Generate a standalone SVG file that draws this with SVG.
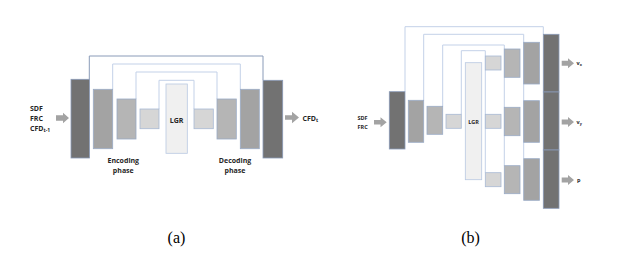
<svg xmlns="http://www.w3.org/2000/svg" width="622" height="257" viewBox="0 0 622 257">
<defs>
<style>
.bg{fill:#ffffff}
.d{fill:#727272;stroke:#8a9bb8;stroke-width:0.8}
.m{fill:#a3a3a3;stroke:#9aabc6;stroke-width:0.8}
.m2{fill:#b5b5b5;stroke:#9aabc6;stroke-width:0.8}
.l{fill:#d6d6d6;stroke:#a8b9d4;stroke-width:0.8}
.lgr{fill:#f0f0f0;stroke:#b8c8e2;stroke-width:0.8}
.sk{fill:none;stroke:#c3d1e8;stroke-width:1}
.sko{fill:none;stroke:#8a9bb8;stroke-width:1}
.ar{fill:#a3a3a3}
.t{font-family:"Open Sans","Liberation Sans",sans-serif;font-weight:bold;fill:#262626}
.ta{font-size:7px}
.tb{font-size:5.5px}
.cap{font-family:"Liberation Serif",serif;font-size:16px;fill:#000}
</style>
</defs>
<rect class="bg" x="0" y="0" width="622" height="257"/>

<!-- (a) connectors -->
<g id="connectors-a">
<polyline class="sko" points="89.3,79 89.3,56 263,56 263,80"/>
<polyline class="sk" points="112.7,89 112.7,64 240.3,64 240.3,89"/>
<polyline class="sk" points="136,99 136,72 217,72 217,99"/>
<polyline class="sk" points="159,109 159,80.3 194,80.3 194,109"/>
<path class="ar" d="M56,115.3 H63 V112.7 L69,118 L63,123.3 V120.7 H56 Z"/>
<path class="ar" d="M285,115.3 H292 V111.7 L299,117.5 L292,123.3 V119.7 H285 Z"/>
</g>

<!-- (a) nodes -->
<g id="a-enc1"><rect class="d" x="71" y="79.3" width="18.5" height="78.7"/></g>
<g id="a-enc2"><rect class="m" x="93.3" y="89.3" width="19.4" height="59.4"/></g>
<g id="a-enc3"><rect class="m2" x="117" y="99" width="19" height="40"/></g>
<g id="a-enc4"><rect class="l" x="140" y="109" width="19" height="19.7"/></g>
<g id="a-lgr"><rect class="lgr" x="166" y="84" width="21.3" height="69.3"/><text class="t ta" x="176.6" y="122.5" text-anchor="middle">LGR</text></g>
<g id="a-dec4"><rect class="l" x="194" y="109" width="19.3" height="19.7"/></g>
<g id="a-dec3"><rect class="m2" x="217" y="99" width="19.3" height="40"/></g>
<g id="a-dec2"><rect class="m" x="240.3" y="89.3" width="19" height="59.4"/></g>
<g id="a-dec1"><rect class="d" x="263" y="80.3" width="19.7" height="77.7"/></g>

<g id="a-labels">
<text class="t ta" x="30" y="110.5">SDF</text>
<text class="t ta" x="30" y="120.5">FRC</text>
<text class="t ta" x="30" y="130.5">CFD<tspan font-size="5" dy="1.5">t-1</tspan></text>
<text class="t ta" x="302.5" y="120.5">CFD<tspan font-size="5" dy="1.5">t</tspan></text>
<text class="t ta" x="123.3" y="162.5" text-anchor="middle">Encoding</text>
<text class="t ta" x="123.3" y="172.5" text-anchor="middle">phase</text>
<text class="t ta" x="235" y="162.5" text-anchor="middle">Decoding</text>
<text class="t ta" x="235" y="172.5" text-anchor="middle">phase</text>
</g>

<!-- (b) connectors -->
<g id="connectors-b">
<polyline class="sk" points="405,91.7 405,26.7 543.3,26.7 543.3,34.3"/>
<polyline class="sk" points="423.7,100.3 423.7,34.3 523.7,34.3 523.7,158.7"/>
<polyline class="sk" points="442.7,106.3 442.7,45 504.3,45 504.3,165.7"/>
<polyline class="sk" points="461.3,114.3 461.3,50.7 485.3,50.7 485.3,172.7"/>
<path class="ar" d="M374,120 H380.5 V117.3 L386.7,122.3 L380.5,127.3 V124.6 H374 Z"/>
<path class="ar" d="M561.7,60.8 H568 V58.3 L574,63.3 L568,68.3 V65.8 H561.7 Z"/>
<path class="ar" d="M561.7,119.5 H568 V117 L574,122 L568,127 V124.5 H561.7 Z"/>
<path class="ar" d="M561.7,177.5 H568 V175 L574,180 L568,185 V182.5 H561.7 Z"/>
</g>

<!-- (b) nodes -->
<g id="b-enc1"><rect class="d" x="389.3" y="91.7" width="15.7" height="57.3"/></g>
<g id="b-enc2"><rect class="m" x="408.3" y="100.3" width="15.4" height="42"/></g>
<g id="b-enc3"><rect class="m2" x="427" y="106.3" width="15.7" height="28"/></g>
<g id="b-enc4"><rect class="l" x="446" y="114.3" width="15.3" height="14"/></g>
<g id="b-lgr"><rect class="lgr" x="465.3" y="62.7" width="16.4" height="117"/><text class="t tb" x="473.5" y="123.8" text-anchor="middle">LGR</text></g>
<g id="b-dec4"><rect class="l" x="485.3" y="56" width="15.7" height="14"/><rect class="l" x="485.3" y="114.3" width="15.7" height="14"/><rect class="l" x="485.3" y="172.7" width="15.7" height="14"/></g>
<g id="b-dec3"><rect class="m2" x="504.3" y="49" width="15.7" height="28.3"/><rect class="m2" x="504.3" y="107.3" width="15.7" height="28.4"/><rect class="m2" x="504.3" y="165.7" width="15.7" height="28"/></g>
<g id="b-dec2"><rect class="m" x="523.7" y="42.3" width="15.7" height="41.7"/><rect class="m" x="523.7" y="100.7" width="15.7" height="41.6"/><rect class="m" x="523.7" y="158.7" width="15.7" height="41.6"/></g>
<g id="b-dec1"><rect class="d" x="543.3" y="34.3" width="15.7" height="57.7"/><rect class="d" x="543.3" y="92" width="15.7" height="58"/><rect class="d" x="543.3" y="150" width="15.7" height="58.3"/></g>

<g id="b-labels">
<text class="t tb" x="357.5" y="120.3">SDF</text>
<text class="t tb" x="357.5" y="128.5">FRC</text>
<text class="t tb" x="576.5" y="65">v<tspan font-size="3.8" dy="1">x</tspan></text>
<text class="t tb" x="576.5" y="124">v<tspan font-size="3.8" dy="1">y</tspan></text>
<text class="t tb" x="577" y="182">p</text>
</g>

<text class="cap" x="176.5" y="243" text-anchor="middle">(a)</text>
<text class="cap" x="470.5" y="243" text-anchor="middle">(b)</text>
</svg>
